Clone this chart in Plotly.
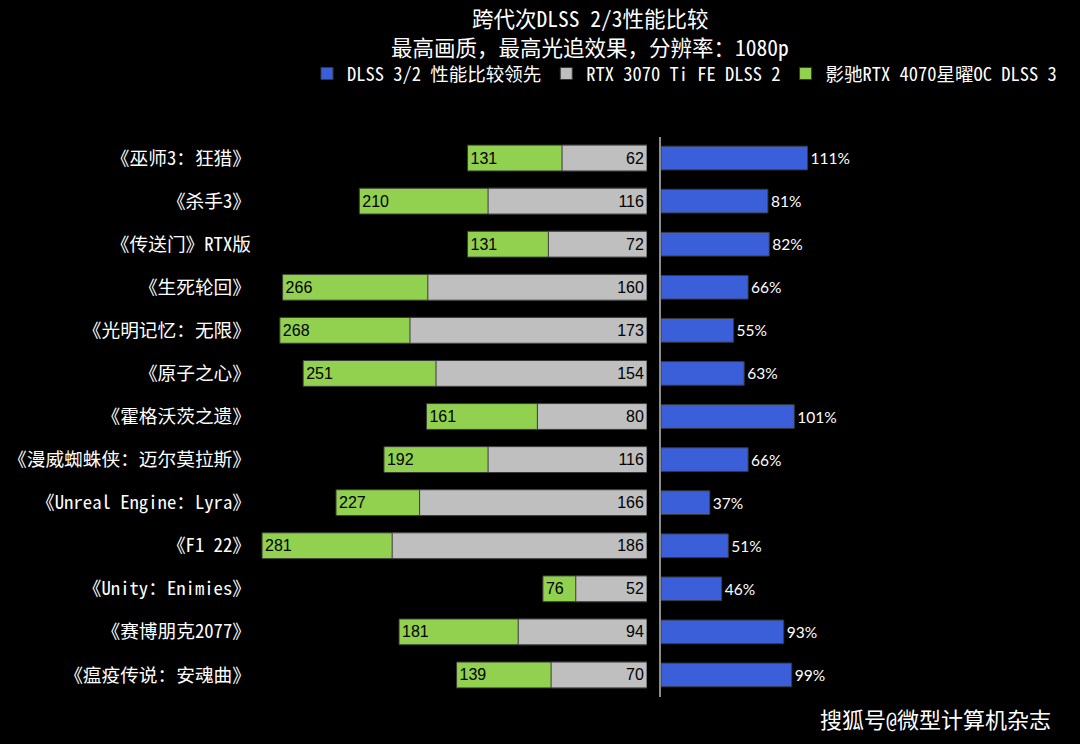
import plotly.graph_objects as go

games = ["《巫师3：狂猎》", "《杀手3》", "《传送门》RTX版", "《生死轮回》", "《光明记忆：无限》",
         "《原子之心》", "《霍格沃茨之遗》", "《漫威蜘蛛侠：迈尔莫拉斯》", "《Unreal Engine：Lyra》",
         "《F1 22》", "《Unity：Enimies》", "《赛博朋克2077》", "《瘟疫传说：安魂曲》"]
dlss3_4070 = [131, 210, 131, 266, 268, 251, 161, 192, 227, 281, 76, 181, 139]
dlss2_3070ti = [62, 116, 72, 160, 173, 154, 80, 116, 166, 186, 52, 94, 70]
lead_pct = [111, 81, 82, 66, 55, 63, 101, 66, 37, 51, 46, 93, 99]

BLUE = "#3B5FD9"
GRAY = "#BFBFBF"
GREEN = "#92D050"
EDGE = "#3a3a3a"
CJK = "Noto Sans Mono CJK SC, Noto Sans CJK SC, sans-serif"

W, H = 1080, 744
fig = go.Figure()

fig.add_trace(go.Bar(
    y=games, x=lead_pct, orientation="h", name="DLSS 3/2 性能比较领先",
    xaxis="x2", yaxis="y2", width=0.55, legendrank=1,
    marker=dict(color=BLUE, line=dict(color=EDGE, width=1)),
    text=[f"{v}%" for v in lead_pct], textposition="outside",
    textfont=dict(color="white", family="Lato, Liberation Sans", size=15.5),
    cliponaxis=False, hoverinfo="skip"))

fig.add_trace(go.Bar(
    y=games, x=dlss3_4070, orientation="h", name="影驰RTX 4070星曜OC DLSS 3",
    xaxis="x", yaxis="y", width=0.6, legendrank=3,
    marker=dict(color=GREEN, line=dict(color=EDGE, width=1)),
    text=[str(v) for v in dlss3_4070], textposition="inside", insidetextanchor="end",
    textangle=0,
    textfont=dict(color="black", family="Liberation Sans", size=16), hoverinfo="skip"))

fig.add_trace(go.Bar(
    y=games, x=dlss2_3070ti, orientation="h", name="RTX 3070 Ti FE DLSS 2",
    xaxis="x", yaxis="y", width=0.6, legendrank=2,
    marker=dict(color=GRAY, line=dict(color=EDGE, width=1)),
    text=[str(v) for v in dlss2_3070ti], textposition="inside", insidetextanchor="start",
    textangle=0,
    textfont=dict(color="black", family="Liberation Sans", size=16), hoverinfo="skip"))

ydom = [1 - 696.5 / H, 1 - 136.5 / H]
left_px = (252, 647)
right_px = (661, 1000)
left_scale = 1.370
right_scale = 1.32

fig.update_layout(
    width=W, height=H,
    margin=dict(l=0, r=0, t=0, b=0),
    paper_bgcolor="black", plot_bgcolor="black",
    barmode="overlay",
    font=dict(family=CJK, color="white"),
    legend=dict(orientation="h", x=1062 / W, xanchor="right", y=1 - 74 / H, yanchor="middle",
                font=dict(size=18.5, color="white", family=CJK), bgcolor="rgba(0,0,0,0)",
                itemwidth=30, traceorder="normal"),
    xaxis=dict(domain=[left_px[0] / W, left_px[1] / W],
               range=[(left_px[1] - left_px[0]) / left_scale, 0],
               showgrid=False, zeroline=False, showticklabels=False, showline=False, anchor="y"),
    xaxis2=dict(domain=[right_px[0] / W, right_px[1] / W],
                range=[0, (right_px[1] - right_px[0]) / right_scale],
                showgrid=False, zeroline=False, showticklabels=False, showline=False, anchor="y2"),
    yaxis=dict(domain=ydom, type="category", categoryorder="array", categoryarray=games,
               range=[len(games) - 0.5, -0.5], anchor="x", showgrid=False, zeroline=False,
               ticks="", ticklabelstandoff=0, automargin=False,
               tickfont=dict(size=18.7, color="white", family=CJK)),
    yaxis2=dict(domain=ydom, type="category", categoryorder="array", categoryarray=games,
                range=[len(games) - 0.5, -0.5], anchor="x2", showgrid=False, zeroline=False,
                showticklabels=False, ticks="", showline=True, linecolor="#8c8c8c", linewidth=1.5),
    annotations=[
        dict(text="跨代次DLSS 2/3性能比较", xref="paper", yref="paper",
             x=590 / W, xanchor="center", y=1 - 18 / H, yanchor="middle",
             showarrow=False, font=dict(size=21.5, color="white", family=CJK)),
        dict(text="最高画质，最高光追效果，分辨率：1080p", xref="paper", yref="paper",
             x=590 / W, xanchor="center", y=1 - 46.5 / H, yanchor="middle",
             showarrow=False, font=dict(size=21.5, color="white", family=CJK)),
        dict(text="搜狐号@微型计算机杂志", xref="paper", yref="paper",
             x=1053 / W, xanchor="right", y=1 - 718 / H, yanchor="middle",
             showarrow=False, font=dict(size=22, color="white", family=CJK)),
    ],
)

fig.write_html("out.html", config={"displayModeBar": False},
               post_script="document.body.style.margin='0';document.body.style.background='black';")
